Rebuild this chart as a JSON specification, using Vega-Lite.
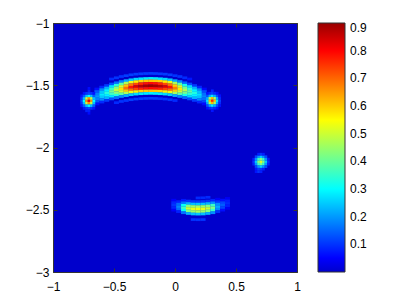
{
"$schema": "https://vega.github.io/schema/vega-lite/v6.json",
"width": 244, "height": 249,
"autosize": {"type": "none"},
"padding": {"left": 53, "top": 23, "right": 110, "bottom": 35},
"background": "white",
"config": {
  "view": {"stroke": "#333", "strokeWidth": 1, "fill": "#0000cc"},
  "axis": {"labelFont": "Liberation Sans", "labelFontSize": 12, "labelColor": "#000", "tickColor": "#333", "tickWidth": 1, "tickSize": -4, "domain": false, "grid": false, "labelFlush": false, "labelOverlap": false, "labelBound": false},
  "legend": {"labelFont": "Liberation Sans", "labelFontSize": 12, "labelColor": "#000"}
},
"datasets": {
"arc": [
{"x":-0.68,"y":-1.566,"v":0.054},{"x":-0.68,"y":-1.586,"v":0.07},{"x":-0.68,"y":-1.606,"v":0.08},{"x":-0.68,"y":-1.626,"v":0.07},{"x":-0.68,"y":-1.646,"v":0.054},
{"x":-0.64,"y":-1.53,"v":0.064},{"x":-0.64,"y":-1.55,"v":0.136},{"x":-0.64,"y":-1.57,"v":0.176},{"x":-0.64,"y":-1.59,"v":0.2},{"x":-0.64,"y":-1.61,"v":0.176},{"x":-0.64,"y":-1.63,"v":0.136},{"x":-0.64,"y":-1.65,"v":0.064},
{"x":-0.6,"y":-1.515,"v":0.09},{"x":-0.6,"y":-1.535,"v":0.19},{"x":-0.6,"y":-1.555,"v":0.246},{"x":-0.6,"y":-1.575,"v":0.28},{"x":-0.6,"y":-1.595,"v":0.246},{"x":-0.6,"y":-1.615,"v":0.19},{"x":-0.6,"y":-1.635,"v":0.09},
{"x":-0.56,"y":-1.502,"v":0.106},{"x":-0.56,"y":-1.522,"v":0.224},{"x":-0.56,"y":-1.542,"v":0.29},{"x":-0.56,"y":-1.562,"v":0.33},{"x":-0.56,"y":-1.582,"v":0.29},{"x":-0.56,"y":-1.602,"v":0.224},{"x":-0.56,"y":-1.622,"v":0.106},
{"x":-0.52,"y":-1.45,"v":0.09},{"x":-0.52,"y":-1.49,"v":0.131},{"x":-0.52,"y":-1.51,"v":0.279},{"x":-0.52,"y":-1.53,"v":0.361},{"x":-0.52,"y":-1.55,"v":0.41},{"x":-0.52,"y":-1.57,"v":0.361},{"x":-0.52,"y":-1.59,"v":0.279},{"x":-0.52,"y":-1.61,"v":0.131},
{"x":-0.48,"y":-1.44,"v":0.1},{"x":-0.48,"y":-1.48,"v":0.157},{"x":-0.48,"y":-1.5,"v":0.333},{"x":-0.48,"y":-1.52,"v":0.431},{"x":-0.48,"y":-1.54,"v":0.49},{"x":-0.48,"y":-1.56,"v":0.431},{"x":-0.48,"y":-1.58,"v":0.333},{"x":-0.48,"y":-1.6,"v":0.157},{"x":-0.48,"y":-1.64,"v":0.09},
{"x":-0.44,"y":-1.43,"v":0.1},{"x":-0.44,"y":-1.47,"v":0.186},{"x":-0.44,"y":-1.49,"v":0.394},{"x":-0.44,"y":-1.51,"v":0.51},{"x":-0.44,"y":-1.53,"v":0.58},{"x":-0.44,"y":-1.55,"v":0.51},{"x":-0.44,"y":-1.57,"v":0.394},{"x":-0.44,"y":-1.59,"v":0.186},{"x":-0.44,"y":-1.63,"v":0.1},
{"x":-0.4,"y":-1.423,"v":0.11},{"x":-0.4,"y":-1.463,"v":0.221},{"x":-0.4,"y":-1.483,"v":0.469},{"x":-0.4,"y":-1.503,"v":0.607},{"x":-0.4,"y":-1.523,"v":0.69},{"x":-0.4,"y":-1.543,"v":0.607},{"x":-0.4,"y":-1.563,"v":0.469},{"x":-0.4,"y":-1.583,"v":0.221},{"x":-0.4,"y":-1.623,"v":0.1},
{"x":-0.36,"y":-1.416,"v":0.11},{"x":-0.36,"y":-1.456,"v":0.25},{"x":-0.36,"y":-1.476,"v":0.53},{"x":-0.36,"y":-1.496,"v":0.686},{"x":-0.36,"y":-1.516,"v":0.78},{"x":-0.36,"y":-1.536,"v":0.686},{"x":-0.36,"y":-1.556,"v":0.53},{"x":-0.36,"y":-1.576,"v":0.25},{"x":-0.36,"y":-1.616,"v":0.11},
{"x":-0.32,"y":-1.411,"v":0.11},{"x":-0.32,"y":-1.451,"v":0.266},{"x":-0.32,"y":-1.471,"v":0.564},{"x":-0.32,"y":-1.491,"v":0.73},{"x":-0.32,"y":-1.511,"v":0.83},{"x":-0.32,"y":-1.531,"v":0.73},{"x":-0.32,"y":-1.551,"v":0.564},{"x":-0.32,"y":-1.571,"v":0.266},{"x":-0.32,"y":-1.611,"v":0.11},
{"x":-0.28,"y":-1.408,"v":0.11},{"x":-0.28,"y":-1.448,"v":0.278},{"x":-0.28,"y":-1.468,"v":0.592},{"x":-0.28,"y":-1.488,"v":0.766},{"x":-0.28,"y":-1.508,"v":0.87},{"x":-0.28,"y":-1.528,"v":0.766},{"x":-0.28,"y":-1.548,"v":0.592},{"x":-0.28,"y":-1.568,"v":0.278},{"x":-0.28,"y":-1.608,"v":0.11},
{"x":-0.24,"y":-1.406,"v":0.11},{"x":-0.24,"y":-1.446,"v":0.285},{"x":-0.24,"y":-1.466,"v":0.605},{"x":-0.24,"y":-1.486,"v":0.783},{"x":-0.24,"y":-1.506,"v":0.89},{"x":-0.24,"y":-1.526,"v":0.783},{"x":-0.24,"y":-1.546,"v":0.605},{"x":-0.24,"y":-1.566,"v":0.285},{"x":-0.24,"y":-1.606,"v":0.11},
{"x":-0.2,"y":-1.405,"v":0.11},{"x":-0.2,"y":-1.445,"v":0.288},{"x":-0.2,"y":-1.465,"v":0.612},{"x":-0.2,"y":-1.485,"v":0.792},{"x":-0.2,"y":-1.505,"v":0.9},{"x":-0.2,"y":-1.525,"v":0.792},{"x":-0.2,"y":-1.545,"v":0.612},{"x":-0.2,"y":-1.565,"v":0.288},{"x":-0.2,"y":-1.605,"v":0.11},
{"x":-0.16,"y":-1.406,"v":0.11},{"x":-0.16,"y":-1.446,"v":0.285},{"x":-0.16,"y":-1.466,"v":0.605},{"x":-0.16,"y":-1.486,"v":0.783},{"x":-0.16,"y":-1.506,"v":0.89},{"x":-0.16,"y":-1.526,"v":0.783},{"x":-0.16,"y":-1.546,"v":0.605},{"x":-0.16,"y":-1.566,"v":0.285},{"x":-0.16,"y":-1.606,"v":0.11},
{"x":-0.12,"y":-1.408,"v":0.11},{"x":-0.12,"y":-1.448,"v":0.278},{"x":-0.12,"y":-1.468,"v":0.592},{"x":-0.12,"y":-1.488,"v":0.766},{"x":-0.12,"y":-1.508,"v":0.87},{"x":-0.12,"y":-1.528,"v":0.766},{"x":-0.12,"y":-1.548,"v":0.592},{"x":-0.12,"y":-1.568,"v":0.278},{"x":-0.12,"y":-1.608,"v":0.1},
{"x":-0.08,"y":-1.411,"v":0.11},{"x":-0.08,"y":-1.451,"v":0.266},{"x":-0.08,"y":-1.471,"v":0.564},{"x":-0.08,"y":-1.491,"v":0.73},{"x":-0.08,"y":-1.511,"v":0.83},{"x":-0.08,"y":-1.531,"v":0.73},{"x":-0.08,"y":-1.551,"v":0.564},{"x":-0.08,"y":-1.571,"v":0.266},{"x":-0.08,"y":-1.611,"v":0.1},
{"x":-0.04,"y":-1.416,"v":0.11},{"x":-0.04,"y":-1.456,"v":0.25},{"x":-0.04,"y":-1.476,"v":0.53},{"x":-0.04,"y":-1.496,"v":0.686},{"x":-0.04,"y":-1.516,"v":0.78},{"x":-0.04,"y":-1.536,"v":0.686},{"x":-0.04,"y":-1.556,"v":0.53},{"x":-0.04,"y":-1.576,"v":0.25},{"x":-0.04,"y":-1.616,"v":0.1},
{"x":0,"y":-1.423,"v":0.1},{"x":0,"y":-1.463,"v":0.218},{"x":0,"y":-1.483,"v":0.462},{"x":0,"y":-1.503,"v":0.598},{"x":0,"y":-1.523,"v":0.68},{"x":0,"y":-1.543,"v":0.598},{"x":0,"y":-1.563,"v":0.462},{"x":0,"y":-1.583,"v":0.218},{"x":0,"y":-1.623,"v":0.09},
{"x":0.04,"y":-1.43,"v":0.1},{"x":0.04,"y":-1.47,"v":0.182},{"x":0.04,"y":-1.49,"v":0.388},{"x":0.04,"y":-1.51,"v":0.502},{"x":0.04,"y":-1.53,"v":0.57},{"x":0.04,"y":-1.55,"v":0.502},{"x":0.04,"y":-1.57,"v":0.388},{"x":0.04,"y":-1.59,"v":0.182},
{"x":0.08,"y":-1.44,"v":0.09},{"x":0.08,"y":-1.48,"v":0.15},{"x":0.08,"y":-1.5,"v":0.32},{"x":0.08,"y":-1.52,"v":0.414},{"x":0.08,"y":-1.54,"v":0.47},{"x":0.08,"y":-1.56,"v":0.414},{"x":0.08,"y":-1.58,"v":0.32},{"x":0.08,"y":-1.6,"v":0.15},
{"x":0.12,"y":-1.45,"v":0.07},{"x":0.12,"y":-1.49,"v":0.125},{"x":0.12,"y":-1.51,"v":0.265},{"x":0.12,"y":-1.53,"v":0.343},{"x":0.12,"y":-1.55,"v":0.39},{"x":0.12,"y":-1.57,"v":0.343},{"x":0.12,"y":-1.59,"v":0.265},{"x":0.12,"y":-1.61,"v":0.125},
{"x":0.16,"y":-1.502,"v":0.106},{"x":0.16,"y":-1.522,"v":0.224},{"x":0.16,"y":-1.542,"v":0.29},{"x":0.16,"y":-1.562,"v":0.33},{"x":0.16,"y":-1.582,"v":0.29},{"x":0.16,"y":-1.602,"v":0.224},{"x":0.16,"y":-1.622,"v":0.106},
{"x":0.2,"y":-1.515,"v":0.086},{"x":0.2,"y":-1.535,"v":0.184},{"x":0.2,"y":-1.555,"v":0.238},{"x":0.2,"y":-1.575,"v":0.27},{"x":0.2,"y":-1.595,"v":0.238},{"x":0.2,"y":-1.615,"v":0.184},{"x":0.2,"y":-1.635,"v":0.086},
{"x":0.24,"y":-1.53,"v":0.058},{"x":0.24,"y":-1.55,"v":0.122},{"x":0.24,"y":-1.57,"v":0.158},{"x":0.24,"y":-1.59,"v":0.18},{"x":0.24,"y":-1.61,"v":0.158},{"x":0.24,"y":-1.63,"v":0.122},{"x":0.24,"y":-1.65,"v":0.058},
{"x":0.28,"y":-1.566,"v":0.061},{"x":0.28,"y":-1.586,"v":0.079},{"x":0.28,"y":-1.606,"v":0.09},{"x":0.28,"y":-1.626,"v":0.079},{"x":0.28,"y":-1.646,"v":0.061},
{"x":-0.01,"y":-2.423,"v":0.045},{"x":-0.01,"y":-2.443,"v":0.085},{"x":-0.01,"y":-2.463,"v":0.1},{"x":-0.01,"y":-2.483,"v":0.085},{"x":-0.01,"y":-2.503,"v":0.045},
{"x":0.03,"y":-2.435,"v":0.081},{"x":0.03,"y":-2.455,"v":0.153},{"x":0.03,"y":-2.475,"v":0.18},{"x":0.03,"y":-2.495,"v":0.153},{"x":0.03,"y":-2.515,"v":0.081},
{"x":0.07,"y":-2.424,"v":0.072},{"x":0.07,"y":-2.444,"v":0.162},{"x":0.07,"y":-2.464,"v":0.306},{"x":0.07,"y":-2.484,"v":0.36},{"x":0.07,"y":-2.504,"v":0.306},{"x":0.07,"y":-2.524,"v":0.162},
{"x":0.11,"y":-2.43,"v":0.1},{"x":0.11,"y":-2.45,"v":0.225},{"x":0.11,"y":-2.47,"v":0.425},{"x":0.11,"y":-2.49,"v":0.5},{"x":0.11,"y":-2.51,"v":0.425},{"x":0.11,"y":-2.53,"v":0.225},
{"x":0.15,"y":-2.434,"v":0.106},{"x":0.15,"y":-2.454,"v":0.239},{"x":0.15,"y":-2.474,"v":0.451},{"x":0.15,"y":-2.494,"v":0.53},{"x":0.15,"y":-2.514,"v":0.451},{"x":0.15,"y":-2.534,"v":0.239},{"x":0.15,"y":-2.579,"v":0.1},
{"x":0.19,"y":-2.405,"v":0.09},{"x":0.19,"y":-2.435,"v":0.108},{"x":0.19,"y":-2.455,"v":0.243},{"x":0.19,"y":-2.475,"v":0.459},{"x":0.19,"y":-2.495,"v":0.54},{"x":0.19,"y":-2.515,"v":0.459},{"x":0.19,"y":-2.535,"v":0.243},{"x":0.19,"y":-2.58,"v":0.1},
{"x":0.23,"y":-2.404,"v":0.09},{"x":0.23,"y":-2.434,"v":0.106},{"x":0.23,"y":-2.454,"v":0.239},{"x":0.23,"y":-2.474,"v":0.451},{"x":0.23,"y":-2.494,"v":0.53},{"x":0.23,"y":-2.514,"v":0.451},{"x":0.23,"y":-2.534,"v":0.239},{"x":0.23,"y":-2.579,"v":0.1},
{"x":0.27,"y":-2.4,"v":0.09},{"x":0.27,"y":-2.43,"v":0.1},{"x":0.27,"y":-2.45,"v":0.225},{"x":0.27,"y":-2.47,"v":0.425},{"x":0.27,"y":-2.49,"v":0.5},{"x":0.27,"y":-2.51,"v":0.425},{"x":0.27,"y":-2.53,"v":0.225},
{"x":0.31,"y":-2.424,"v":0.084},{"x":0.31,"y":-2.444,"v":0.189},{"x":0.31,"y":-2.464,"v":0.357},{"x":0.31,"y":-2.484,"v":0.42},{"x":0.31,"y":-2.504,"v":0.357},{"x":0.31,"y":-2.524,"v":0.189},
{"x":0.35,"y":-2.415,"v":0.044},{"x":0.35,"y":-2.435,"v":0.099},{"x":0.35,"y":-2.455,"v":0.187},{"x":0.35,"y":-2.475,"v":0.22},{"x":0.35,"y":-2.495,"v":0.187},{"x":0.35,"y":-2.515,"v":0.099},
{"x":0.39,"y":-2.423,"v":0.063},{"x":0.39,"y":-2.443,"v":0.119},{"x":0.39,"y":-2.463,"v":0.14},{"x":0.39,"y":-2.483,"v":0.119},{"x":0.39,"y":-2.503,"v":0.063},
{"x":0.43,"y":-2.409,"v":0.04},{"x":0.43,"y":-2.429,"v":0.077},{"x":0.43,"y":-2.449,"v":0.09},{"x":0.43,"y":-2.469,"v":0.077},{"x":0.43,"y":-2.489,"v":0.04}
],
"spots": [
{"x":-0.765,"y":-1.625,"v":0.12},{"x":-0.745,"y":-1.625,"v":0.3},{"x":-0.725,"y":-1.625,"v":0.66},{"x":-0.705,"y":-1.625,"v":0.82},{"x":-0.685,"y":-1.625,"v":0.66},{"x":-0.665,"y":-1.625,"v":0.3},
{"x":-0.765,"y":-1.605,"v":0.1},{"x":-0.745,"y":-1.605,"v":0.24},{"x":-0.725,"y":-1.605,"v":0.5},{"x":-0.705,"y":-1.605,"v":0.66},{"x":-0.685,"y":-1.605,"v":0.5},{"x":-0.665,"y":-1.605,"v":0.24},
{"x":-0.765,"y":-1.645,"v":0.1},{"x":-0.745,"y":-1.645,"v":0.24},{"x":-0.725,"y":-1.645,"v":0.5},{"x":-0.705,"y":-1.645,"v":0.66},{"x":-0.685,"y":-1.645,"v":0.5},{"x":-0.665,"y":-1.645,"v":0.24},
{"x":-0.765,"y":-1.585,"v":0.07},{"x":-0.745,"y":-1.585,"v":0.14},{"x":-0.725,"y":-1.585,"v":0.24},{"x":-0.705,"y":-1.585,"v":0.3},{"x":-0.685,"y":-1.585,"v":0.24},{"x":-0.665,"y":-1.585,"v":0.14},
{"x":-0.765,"y":-1.665,"v":0.07},{"x":-0.745,"y":-1.665,"v":0.14},{"x":-0.725,"y":-1.665,"v":0.24},{"x":-0.705,"y":-1.665,"v":0.3},{"x":-0.685,"y":-1.665,"v":0.24},{"x":-0.665,"y":-1.665,"v":0.14},
{"x":-0.745,"y":-1.565,"v":0.07},{"x":-0.725,"y":-1.565,"v":0.1},{"x":-0.705,"y":-1.565,"v":0.12},{"x":-0.685,"y":-1.565,"v":0.1},{"x":-0.665,"y":-1.565,"v":0.07},
{"x":-0.745,"y":-1.685,"v":0.07},{"x":-0.725,"y":-1.685,"v":0.1},{"x":-0.705,"y":-1.685,"v":0.12},{"x":-0.685,"y":-1.685,"v":0.1},{"x":-0.665,"y":-1.685,"v":0.07},
{"x":-0.725,"y":-1.705,"v":0.08},{"x":-0.705,"y":-1.705,"v":0.08},{"x":-0.705,"y":-1.725,"v":0.06},{"x":-0.705,"y":-1.545,"v":0.08},{"x":-0.705,"y":-1.525,"v":0.06},
{"x":0.266,"y":-1.624,"v":0.28},{"x":0.286,"y":-1.624,"v":0.62},{"x":0.306,"y":-1.624,"v":0.76},{"x":0.326,"y":-1.624,"v":0.62},{"x":0.346,"y":-1.624,"v":0.28},{"x":0.366,"y":-1.624,"v":0.11},
{"x":0.266,"y":-1.604,"v":0.22},{"x":0.286,"y":-1.604,"v":0.47},{"x":0.306,"y":-1.604,"v":0.62},{"x":0.326,"y":-1.604,"v":0.47},{"x":0.346,"y":-1.604,"v":0.22},{"x":0.366,"y":-1.604,"v":0.09},
{"x":0.266,"y":-1.644,"v":0.22},{"x":0.286,"y":-1.644,"v":0.47},{"x":0.306,"y":-1.644,"v":0.62},{"x":0.326,"y":-1.644,"v":0.47},{"x":0.346,"y":-1.644,"v":0.22},{"x":0.366,"y":-1.644,"v":0.09},
{"x":0.266,"y":-1.584,"v":0.13},{"x":0.286,"y":-1.584,"v":0.22},{"x":0.306,"y":-1.584,"v":0.28},{"x":0.326,"y":-1.584,"v":0.22},{"x":0.346,"y":-1.584,"v":0.13},{"x":0.366,"y":-1.584,"v":0.065},
{"x":0.266,"y":-1.664,"v":0.13},{"x":0.286,"y":-1.664,"v":0.22},{"x":0.306,"y":-1.664,"v":0.28},{"x":0.326,"y":-1.664,"v":0.22},{"x":0.346,"y":-1.664,"v":0.13},{"x":0.366,"y":-1.664,"v":0.065},
{"x":0.266,"y":-1.564,"v":0.065},{"x":0.286,"y":-1.564,"v":0.09},{"x":0.306,"y":-1.564,"v":0.11},{"x":0.326,"y":-1.564,"v":0.09},{"x":0.346,"y":-1.564,"v":0.065},
{"x":0.266,"y":-1.684,"v":0.065},{"x":0.286,"y":-1.684,"v":0.09},{"x":0.306,"y":-1.684,"v":0.11},{"x":0.326,"y":-1.684,"v":0.09},{"x":0.346,"y":-1.684,"v":0.065},
{"x":0.306,"y":-1.544,"v":0.08},{"x":0.306,"y":-1.704,"v":0.07},
{"x":0.645,"y":-2.114,"v":0.1},{"x":0.665,"y":-2.114,"v":0.25},{"x":0.685,"y":-2.114,"v":0.43},{"x":0.705,"y":-2.114,"v":0.52},{"x":0.725,"y":-2.114,"v":0.43},{"x":0.745,"y":-2.114,"v":0.25},{"x":0.765,"y":-2.114,"v":0.1},
{"x":0.645,"y":-2.094,"v":0.08},{"x":0.665,"y":-2.094,"v":0.2},{"x":0.685,"y":-2.094,"v":0.36},{"x":0.705,"y":-2.094,"v":0.43},{"x":0.725,"y":-2.094,"v":0.36},{"x":0.745,"y":-2.094,"v":0.2},{"x":0.765,"y":-2.094,"v":0.08},
{"x":0.645,"y":-2.134,"v":0.08},{"x":0.665,"y":-2.134,"v":0.2},{"x":0.685,"y":-2.134,"v":0.36},{"x":0.705,"y":-2.134,"v":0.43},{"x":0.725,"y":-2.134,"v":0.36},{"x":0.745,"y":-2.134,"v":0.2},{"x":0.765,"y":-2.134,"v":0.08},
{"x":0.665,"y":-2.074,"v":0.12},{"x":0.685,"y":-2.074,"v":0.2},{"x":0.705,"y":-2.074,"v":0.25},{"x":0.725,"y":-2.074,"v":0.2},{"x":0.745,"y":-2.074,"v":0.12},
{"x":0.665,"y":-2.154,"v":0.12},{"x":0.685,"y":-2.154,"v":0.2},{"x":0.705,"y":-2.154,"v":0.25},{"x":0.725,"y":-2.154,"v":0.2},{"x":0.745,"y":-2.154,"v":0.12},
{"x":0.685,"y":-2.054,"v":0.08},{"x":0.705,"y":-2.054,"v":0.1},{"x":0.725,"y":-2.054,"v":0.08},
{"x":0.665,"y":-2.174,"v":0.07},{"x":0.685,"y":-2.174,"v":0.11},{"x":0.705,"y":-2.174,"v":0.1},{"x":0.725,"y":-2.174,"v":0.08},
{"x":0.665,"y":-2.194,"v":0.07},{"x":0.685,"y":-2.194,"v":0.1},{"x":0.705,"y":-2.194,"v":0.08}
]
},
"layer": [
{
  "data": {"name": "arc"},
  "mark": {"type": "rect", "width": 5, "height": 2.7},
  "encoding": {
    "x": {"field": "x", "type": "quantitative", "scale": {"domain": [-1, 1], "nice": false, "zero": false},
          "axis": {"orient": "bottom", "values": [-1, -0.5, 0, 0.5, 1], "format": "~g", "title": null, "labelPadding": 13}},
    "y": {"field": "y", "type": "quantitative", "scale": {"domain": [-3, -1], "nice": false, "zero": false},
          "axis": {"orient": "left", "values": [-3, -2.5, -2, -1.5, -1], "format": "~g", "title": null, "labelPadding": 8}},
    "color": {"field": "v", "type": "quantitative",
      "scale": {"domain": [0, 0.05, 0.175, 0.3, 0.425, 0.55, 0.675, 0.8, 0.9],
                "range": ["#0000cc", "#0000ff", "#0080ff", "#00ffff", "#80ff80", "#ffff00", "#ff8000", "#ff0000", "#990000"],
                "interpolate": "rgb"},
      "legend": {"orient": "none", "legendX": 265, "legendY": 0, "direction": "vertical", "title": null,
                 "gradientLength": 249, "gradientThickness": 27, "gradientStrokeColor": "#333", "gradientStrokeWidth": 1,
                 "values": [0.1, 0.2, 0.3, 0.4, 0.5, 0.6, 0.7, 0.8, 0.9], "format": "~g",
                 "labelOffset": 5, "labelBaseline": "middle", "labelOverlap": false, "padding": 0}}
  }
},
{
  "data": {"name": "spots"},
  "mark": {"type": "rect", "width": 2.7, "height": 2.7},
  "encoding": {
    "x": {"field": "x", "type": "quantitative", "axis": {"orient": "top", "values": [-1, -0.5, 0, 0.5, 1], "labels": false, "title": null}},
    "y": {"field": "y", "type": "quantitative", "axis": {"orient": "right", "values": [-3, -2.5, -2, -1.5, -1], "labels": false, "title": null}},
    "color": {"field": "v", "type": "quantitative"}
  }
}
],
"resolve": {"axis": {"x": "independent", "y": "independent"}}
}
